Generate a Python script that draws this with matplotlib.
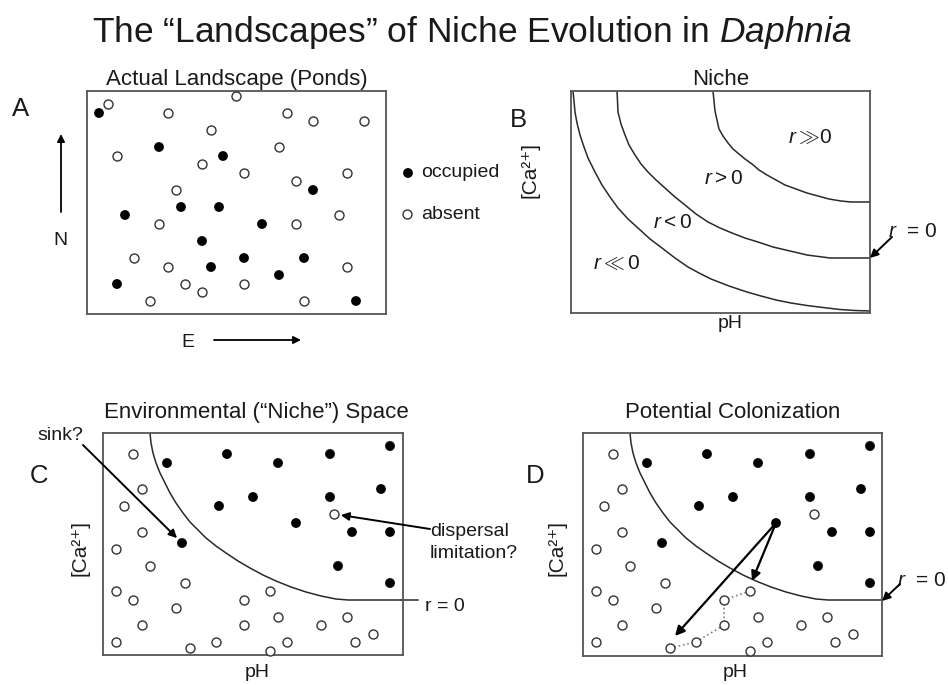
import matplotlib
matplotlib.use("Agg")
import matplotlib.pyplot as plt
import numpy as np

plt.rcParams['font.family'] = ['Liberation Sans', 'DejaVu Sans']
plt.rcParams['mathtext.fontset'] = 'custom'
plt.rcParams['mathtext.rm'] = 'Liberation Sans'
plt.rcParams['mathtext.it'] = 'Liberation Sans:italic'

W, H = 948, 685

# ---------------- data (px from top-left of each box) ----
# A: actual landscape, 1 = occupied, 0 = absent
pond_a_x = [21, 12, 149, 81, 200, 226, 277, 124, 72, 192, 30, 136, 115, 157, 260, 209,
            226, 89, 94, 132, 38, 252, 72, 175, 209, 115, 47, 157, 217, 81, 124, 260,
            192, 30, 98, 157, 115, 63, 217, 269]
pond_a_y = [13, 22, 5, 22, 22, 30, 30, 39, 56, 56, 65, 65, 73, 82, 82, 90,
            99, 99, 116, 116, 124, 124, 133, 133, 133, 150, 167, 167, 167, 176, 176, 176,
            184, 193, 193, 193, 201, 210, 210, 210]
pond_a_occ = [0, 1, 0, 0, 0, 0, 0, 0, 1, 0, 0, 1, 0, 0, 0, 0,
              1, 0, 1, 1, 1, 0, 0, 1, 0, 1, 0, 1, 1, 0, 1, 0,
              1, 1, 0, 0, 0, 0, 0, 1]

# C / D: same ponds placed in environmental (pH, Ca) space
env_x = [30, 64, 124, 175, 227, 287, 39, 278, 21, 116, 150, 227, 231, 193, 249, 287,
         39, 79, 13, 47, 235, 82, 287, 13, 30, 73, 141, 167, 39, 141, 175, 218,
         244, 270, 13, 87, 113, 167, 184, 252]
env_y = [21, 30, 21, 30, 21, 13, 56, 56, 73, 73, 64, 64, 81, 90, 99, 99,
         99, 110, 116, 133, 133, 150, 150, 158, 167, 175, 167, 158, 192, 192, 184, 192,
         184, 201, 209, 215, 209, 218, 209, 209]
env_occ = [0, 1, 1, 1, 1, 1, 0, 1, 0, 1, 1, 1, 0, 1, 1, 1,
           0, 1, 0, 0, 1, 0, 1, 0, 0, 0, 0, 0, 0, 0, 0, 0,
           0, 0, 0, 0, 0, 0, 0, 0]

# r = 0 boundary in C and D
edge_x = [47, 48, 50, 53, 57, 62, 67, 73, 80, 87, 95, 103, 113, 123, 135, 147, 160, 173, 188, 203, 218, 233, 245, 257, 299]
edge_y = [0, 10, 20, 30, 40, 50, 60, 70, 80, 89, 97, 105, 113, 120, 128, 135, 142, 148, 154, 159, 163, 166, 167, 167, 167]

# B: niche contours
niche_lo_x = [2, 3, 4, 6, 9, 13, 17, 24, 31, 39, 47, 57, 67, 79, 91, 104, 117, 128, 140, 158, 176, 190, 205, 220, 236, 252, 269, 284, 299]
niche_lo_y = [0, 10, 21, 32, 44, 56, 67, 81, 94, 106, 117, 128, 137, 148, 157, 167, 176, 182, 188, 195, 201, 205, 209, 212, 214.5, 216.5, 218.5, 219.5, 220]
niche_mid_x = [46, 46.5, 47, 50, 54, 58, 64, 70, 77, 85, 94, 104, 114, 125, 137, 149, 161, 174, 187, 202, 219, 236, 259, 299]
niche_mid_y = [0, 10, 21, 33, 44, 54, 64, 73, 81, 89, 97, 106, 114, 123, 131, 137, 142, 147, 151, 156, 160, 164, 167, 167]
niche_hi_x = [142, 143, 144, 146, 148, 152, 157, 162, 168, 174, 181, 188, 196, 205, 214, 225, 236, 247, 258, 270, 280, 299]
niche_hi_y = [0, 10, 20, 29, 38, 45, 52, 58, 63, 68, 73, 79, 84, 89, 94, 98, 102, 105, 108, 110, 111, 111]

# D: stepping-stone route between absent ponds
route_x = [87, 113, 141, 141, 167]
route_y = [215, 209, 192, 167, 158]

INK = '#1a1a1a'
LINE = '#2a2a2a'
CA = '[Ca\u00b2\u207a]'

fig = plt.figure(figsize=(W / 100, H / 100), dpi=100)
fig.patch.set_facecolor('white')

# overlay in pixel coordinates for free text
ov = fig.add_axes([0, 0, 1, 1])
ov.set_xlim(0, W)
ov.set_ylim(H, 0)
ov.axis('off')


def panel(x0, y0, x1, y1):
    ax = fig.add_axes([x0 / W, 1 - y1 / H, (x1 - x0) / W, (y1 - y0) / H])
    ax.set_xlim(0, x1 - x0)
    ax.set_ylim(y1 - y0, 0)
    ax.set_xticks([])
    ax.set_yticks([])
    ax.set_facecolor('none')
    for s in ax.spines.values():
        s.set_color('#555555')
        s.set_linewidth(1.3)
    return ax


def ponds(ax, xs, ys, occ):
    xs, ys, occ = np.array(xs), np.array(ys), np.array(occ) == 1
    ax.scatter(xs[occ], ys[occ], s=50, c='black', edgecolors='none', zorder=4, clip_on=False)
    ax.scatter(xs[~occ], ys[~occ], s=42, facecolors='white', edgecolors='#333333',
               linewidths=1.0, zorder=4, clip_on=False)


def arrow(ax, xy, xytext, sb=0, lw=1.4, ms=12):
    ax.annotate('', xy=xy, xytext=xytext, annotation_clip=False,
                arrowprops=dict(arrowstyle='-|>', color='black', lw=lw,
                                mutation_scale=ms, shrinkA=0, shrinkB=sb))


ax_a = panel(87, 91, 386, 314)
ax_b = panel(571, 91, 870, 313)
ax_c = panel(103, 433, 403, 655)
ax_d = panel(583, 433, 882, 656)

# ---- titles and labels
ov.text(472, 42, 'The \u201cLandscapes\u201d of Niche Evolution in $\\mathit{Daphnia}$',
        ha='center', va='baseline', fontsize=25.5, color=INK)
ov.text(237, 85, 'Actual Landscape (Ponds)', ha='center', va='baseline', fontsize=16, color=INK)
ov.text(721, 85, 'Niche', ha='center', va='baseline', fontsize=16, color=INK)
ov.text(256, 418, 'Environmental (\u201cNiche\u201d) Space', ha='center', va='baseline', fontsize=16, color=INK)
ov.text(733, 418, 'Potential Colonization', ha='center', va='baseline', fontsize=16, color=INK)

for lab, x, y in [('A', 21, 116), ('B', 518, 127), ('C', 39, 483), ('D', 535, 483)]:
    ov.text(x, y, lab, ha='center', va='baseline', fontsize=18.5, color=INK)

# ---- A: compass + legend
ov.annotate('', xy=(61, 134), xytext=(61, 212),
            arrowprops=dict(arrowstyle='-|>', color='black', lw=1.3, mutation_scale=11, shrinkA=0, shrinkB=0))
ov.text(60, 245, 'N', ha='center', va='baseline', fontsize=14, color=INK)
ov.annotate('', xy=(301, 340), xytext=(214, 340),
            arrowprops=dict(arrowstyle='-|>', color='black', lw=1.3, mutation_scale=11, shrinkA=0, shrinkB=0))
ov.text(188, 347, 'E', ha='center', va='baseline', fontsize=14, color=INK)

ov.scatter([408], [173], s=50, c='black', edgecolors='none')
ov.scatter([407], [214], s=42, facecolors='white', edgecolors='#333333', linewidths=1.0)
ov.text(421, 177, 'occupied', ha='left', va='baseline', fontsize=14, color=INK)
ov.text(421, 219, 'absent', ha='left', va='baseline', fontsize=14, color=INK)

ponds(ax_a, pond_a_x, pond_a_y, pond_a_occ)

# ---- B: niche contours
for cx, cy in [(niche_lo_x, niche_lo_y), (niche_mid_x, niche_mid_y), (niche_hi_x, niche_hi_y)]:
    ax_b.plot(cx, cy, color=LINE, lw=1.1)
ov.text(810, 137, '$r \\gg\\!0$', ha='center', va='center', fontsize=15, color=INK)
ov.text(723, 178, '$r > 0$', ha='center', va='center', fontsize=15, color=INK)
ov.text(672, 222, '$r < 0$', ha='center', va='center', fontsize=15, color=INK)
ov.text(617, 263, '$r \\ll 0$', ha='center', va='center', fontsize=15, color=INK)
ov.text(888, 237, '$r$  = 0', ha='left', va='baseline', fontsize=15, color=INK)
arrow(ax_b, (299, 167), (321, 146))
ov.text(530, 170, CA, ha='center', va='center', rotation=90, fontsize=15, color=INK)
ov.text(730, 328, 'pH', ha='center', va='baseline', fontsize=14, color=INK)

# ---- C: environmental space
ax_c.plot(edge_x, edge_y, color=LINE, lw=1.1, zorder=2)
ax_c.plot([edge_x[-1], 315], [edge_y[-1], edge_y[-1]], color=LINE, lw=1.1, clip_on=False)
ov.text(425, 611, 'r = 0', ha='left', va='baseline', fontsize=14, color=INK)
ponds(ax_c, env_x, env_y, env_occ)
ov.text(37, 440, 'sink?', ha='left', va='baseline', fontsize=14, color=INK)
arrow(ax_c, (79, 110), (-20, 12), sb=5)
arrow(ax_c, (231, 81), (327, 96), sb=5)
ov.text(430, 536, 'dispersal', ha='left', va='baseline', fontsize=14, color=INK)
ov.text(430, 558, 'limitation?', ha='left', va='baseline', fontsize=14, color=INK)
ov.text(80, 548, CA, ha='center', va='center', rotation=90, fontsize=15, color=INK)
ov.text(257, 677, 'pH', ha='center', va='baseline', fontsize=14, color=INK)

# ---- D: potential colonization
ax_d.plot(edge_x, edge_y, color=LINE, lw=1.1, zorder=2)
ax_d.plot(route_x, route_y, color='#808080', lw=1.2, ls=':', zorder=3)
ponds(ax_d, env_x, env_y, env_occ)
arrow(ax_d, (92, 203), (193, 90), lw=1.6, ms=14)
arrow(ax_d, (169, 148), (193, 90), lw=1.6, ms=14)
arrow(ax_d, (299, 168), (317, 151))
ov.text(897, 586, '$r$  = 0', ha='left', va='baseline', fontsize=15, color=INK)
ov.text(557, 548, CA, ha='center', va='center', rotation=90, fontsize=15, color=INK)
ov.text(735, 677, 'pH', ha='center', va='baseline', fontsize=14, color=INK)

fig.savefig('out.png', dpi=100, facecolor='white')
